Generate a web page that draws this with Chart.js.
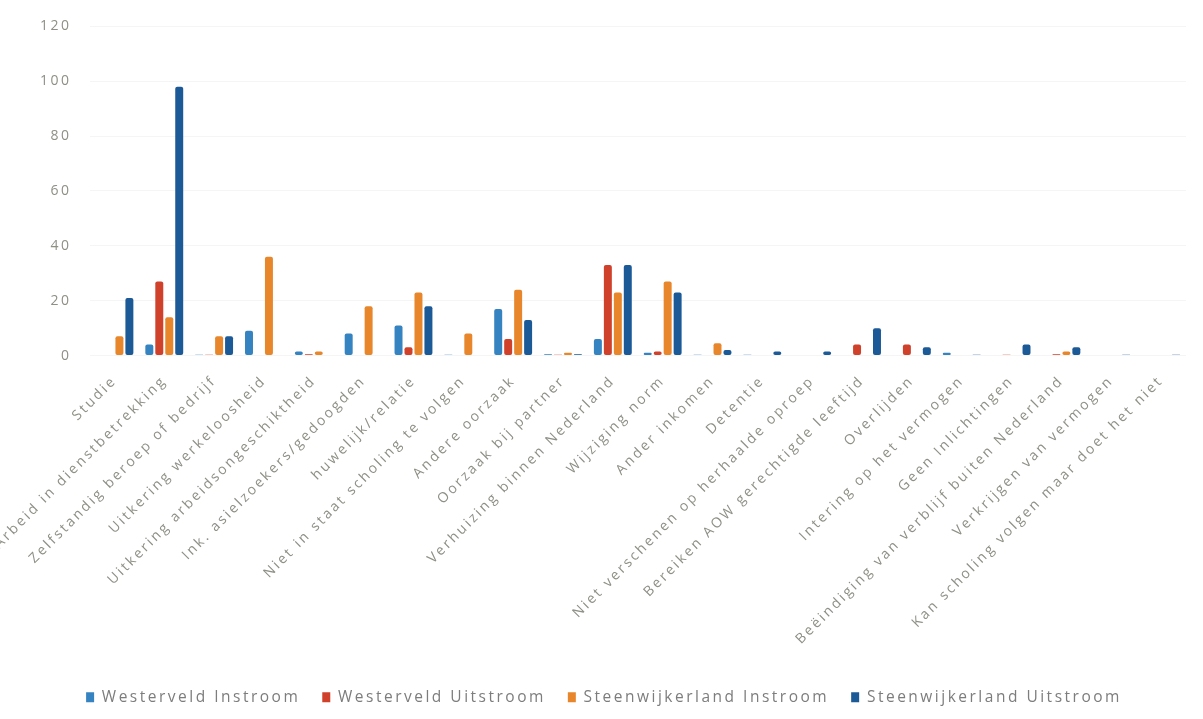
<!DOCTYPE html>
<html>
<head>
<meta charset="utf-8">
<script src="https://cdn.jsdelivr.net/npm/chart.js@4.4.1/dist/chart.umd.min.js"></script>
<style>
    html, body { margin: 0; padding: 0; background: #ffffff; }
    #wrap { width: 1203px; height: 719px; }
</style>
</head>
<body>
<div id="wrap"><canvas id="grafiek"></canvas></div>
<script>
// categorieën (x-as)
const categorieen = [
    'Studie',
    'Arbeid in dienstbetrekking',
    'Zelfstandig beroep of bedrijf',
    'Uitkering werkeloosheid',
    'Uitkering arbeidsongeschiktheid',
    'Ink. asielzoekers/gedoogden',
    'huwelijk/relatie',
    'Niet in staat scholing te volgen',
    'Andere oorzaak',
    'Oorzaak bij partner',
    'Verhuizing binnen Nederland',
    'Wijziging norm',
    'Ander inkomen',
    'Detentie',
    'Niet verschenen op herhaalde oproep',
    'Bereiken AOW gerechtigde leeftijd',
    'Overlijden',
    'Intering op het vermogen',
    'Geen Inlichtingen',
    'Beëindiging van verblijf buiten Nederland',
    'Verkrijgen van vermogen',
    'Kan scholing volgen maar doet het niet'
];

// waarden per reeks
const westerveldInstroom     = [0, 4, 0.3, 9, 1.5, 8, 11, 0.3, 17, 0.5, 6, 1, 0.3, 0.3, 0, 0, 0, 1, 0, 0, 0, 0];
const westerveldUitstroom    = [0, 27, 0.3, 0, 0.5, 0, 3, 0, 6, 0.3, 33, 1.5, 0, 0, 0, 4, 4, 0, 0.3, 0.5, 0, 0];
const steenwijkerlandInstroom = [7, 14, 7, 36, 1.5, 18, 23, 8, 24, 1, 23, 27, 4.5, 0, 0, 0, 0, 0, 0, 1.5, 0, 0];
const steenwijkerlandUitstroom = [21, 98, 7, 0, 0, 0, 18, 0, 13, 0.5, 33, 23, 2, 1.5, 1.5, 10, 3, 0.3, 4, 3, 0.3, 0.3];

// y-as
const yMin = 0;
const yMax = 120;
const yStap = 20;

const tekstKleur = '#8f8f86';
const lettertype = "'Open Sans', 'Noto Sans', sans-serif";

// de tekst in het origineel staat breed uit elkaar;
// na elke resize is de context-state weer leeg, dus steeds opnieuw zetten
const letterAfstand = {
    id: 'letterAfstand',
    beforeUpdate(chart) { chart.ctx.letterSpacing = '2.5px'; },
    beforeLayout(chart) { chart.ctx.letterSpacing = '2.5px'; },
    beforeDraw(chart) { chart.ctx.letterSpacing = '2.5px'; }
};

function reeks(label, data, kleur) {
    return {
        label: label,
        data: data,
        backgroundColor: kleur,
        borderColor: kleur,
        borderWidth: 0,
        borderRadius: 2,
        borderSkipped: false,
        categoryPercentage: 0.8,
        barPercentage: 0.8
    };
}

const ctx = document.getElementById('grafiek').getContext('2d');

new Chart(ctx, {
    type: 'bar',
    data: {
        labels: categorieen,
        datasets: [
            reeks('Westerveld Instroom', westerveldInstroom, '#3583c0'),
            reeks('Westerveld Uitstroom', westerveldUitstroom, '#d0412b'),
            reeks('Steenwijkerland Instroom', steenwijkerlandInstroom, '#e8862c'),
            reeks('Steenwijkerland Uitstroom', steenwijkerlandUitstroom, '#1c5a97')
        ]
    },
    plugins: [letterAfstand],
    options: {
        responsive: true,
        maintainAspectRatio: false,
        animation: false,
        layout: {
            padding: { left: 22, right: 17, top: -3, bottom: 4 }
        },
        scales: {
            x: {
                grid: { display: false },
                border: { display: false },
                ticks: {
                    color: tekstKleur,
                    font: { family: lettertype, size: 14 },
                    minRotation: 45,
                    maxRotation: 45,
                    autoSkip: false,
                    padding: 9
                },
                // lege titel: alleen wat ruimte tussen labels en legenda
                title: {
                    display: true,
                    text: '',
                    font: { size: 9 },
                    padding: 0
                }
            },
            y: {
                min: yMin,
                max: yMax,
                grid: { color: '#f5f5f5', drawTicks: false },
                border: { display: false },
                ticks: {
                    stepSize: yStap,
                    color: tekstKleur,
                    font: { family: lettertype, size: 14 },
                    padding: 18
                }
            }
        },
        plugins: {
            legend: {
                position: 'bottom',
                labels: {
                    color: '#7d7d7d',
                    font: { family: lettertype, size: 15.5 },
                    boxWidth: 8,
                    boxHeight: 10,
                    padding: 22
                }
            },
            tooltip: { enabled: false }
        }
    }
});
</script>
</body>
</html>
